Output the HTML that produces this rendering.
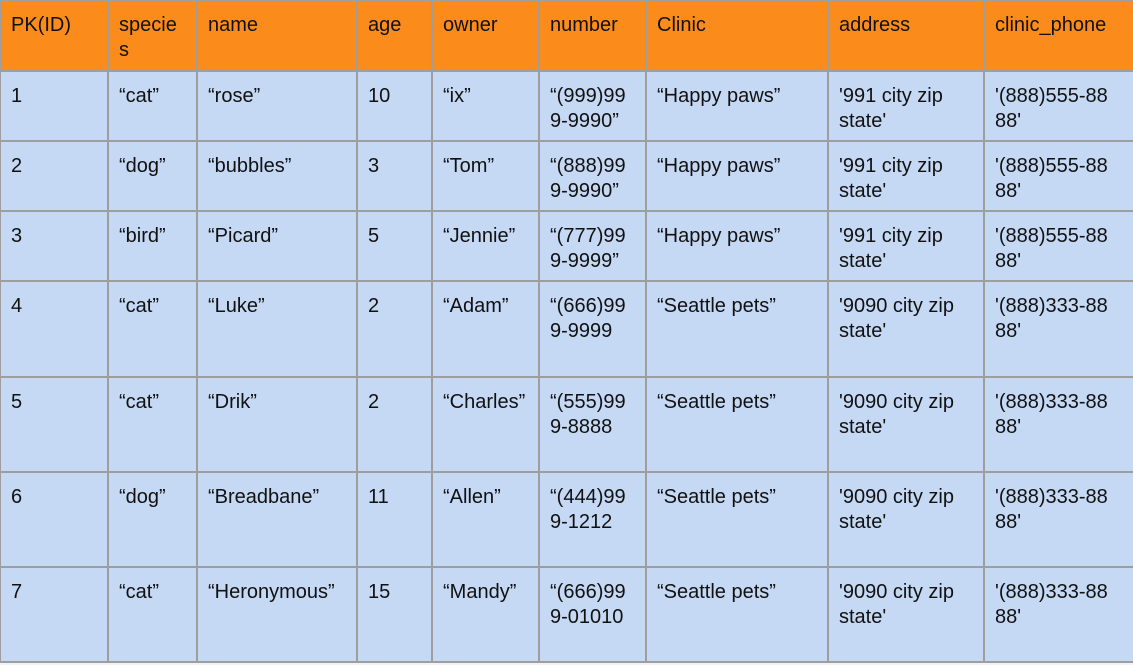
<!DOCTYPE html>
<html><head><style>
body{margin:0;width:1133px;height:665px;background:#f3f3f3;overflow:hidden;font-family:"Liberation Sans",Arial,sans-serif;}
table{position:absolute;left:-1px;top:-1px;border-collapse:collapse;table-layout:fixed;width:1140px;}
td{border:2px solid #9e9e9e;vertical-align:top;padding:12px 0 0 10px;font-size:20px;line-height:25px;color:#111;background:#c5d8f4;box-sizing:border-box;word-break:break-all;}
tr.h td{background:#fb8c1c;}
</style></head><body>
<table>
<colgroup><col style="width:108px"><col style="width:89px"><col style="width:160px"><col style="width:75px"><col style="width:107px"><col style="width:107px"><col style="width:182px"><col style="width:156px"><col style="width:156px"></colgroup>
<tr class="h" style="height:71px"><td>PK(ID)</td><td>specie<br>s</td><td>name</td><td>age</td><td>owner</td><td>number</td><td>Clinic</td><td>address</td><td>clinic_phone</td></tr>
<tr style="height:70px"><td>1</td><td>“cat”</td><td>“rose”</td><td>10</td><td>“ix”</td><td>“(999)99<br>9-9990”</td><td>“Happy paws”</td><td>'991 city zip<br>state'</td><td>'(888)555-88<br>88'</td></tr>
<tr style="height:70px"><td>2</td><td>“dog”</td><td>“bubbles”</td><td>3</td><td>“Tom”</td><td>“(888)99<br>9-9990”</td><td>“Happy paws”</td><td>'991 city zip<br>state'</td><td>'(888)555-88<br>88'</td></tr>
<tr style="height:70px"><td>3</td><td>“bird”</td><td>“Picard”</td><td>5</td><td>“Jennie”</td><td>“(777)99<br>9-9999”</td><td>“Happy paws”</td><td>'991 city zip<br>state'</td><td>'(888)555-88<br>88'</td></tr>
<tr style="height:96px"><td>4</td><td>“cat”</td><td>“Luke”</td><td>2</td><td>“Adam”</td><td>“(666)99<br>9-9999</td><td>“Seattle pets”</td><td>'9090 city zip<br>state'</td><td>'(888)333-88<br>88'</td></tr>
<tr style="height:95px"><td>5</td><td>“cat”</td><td>“Drik”</td><td>2</td><td>“Charles”</td><td>“(555)99<br>9-8888</td><td>“Seattle pets”</td><td>'9090 city zip<br>state'</td><td>'(888)333-88<br>88'</td></tr>
<tr style="height:95px"><td>6</td><td>“dog”</td><td>“Breadbane”</td><td>11</td><td>“Allen”</td><td>“(444)99<br>9-1212</td><td>“Seattle pets”</td><td>'9090 city zip<br>state'</td><td>'(888)333-88<br>88'</td></tr>
<tr style="height:95px"><td>7</td><td>“cat”</td><td>“Heronymous”</td><td>15</td><td>“Mandy”</td><td>“(666)99<br>9-01010</td><td>“Seattle pets”</td><td>'9090 city zip<br>state'</td><td>'(888)333-88<br>88'</td></tr>
</table>
</body></html>
